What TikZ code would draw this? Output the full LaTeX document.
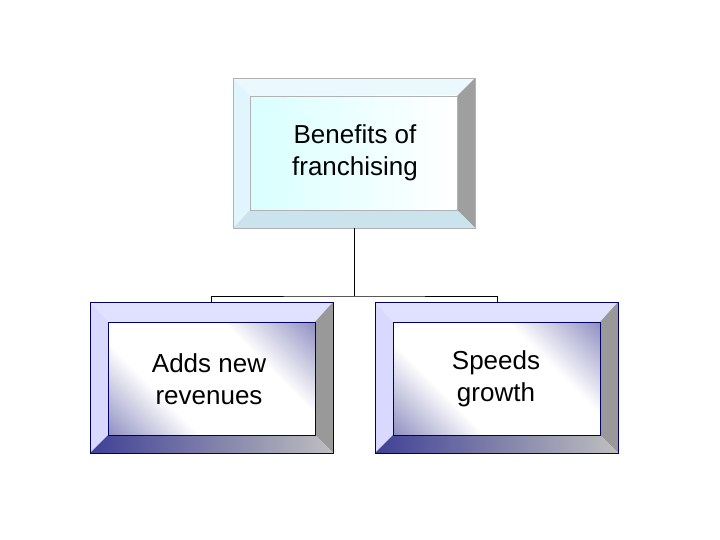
\documentclass[tikz,border=0pt]{standalone}
\usepackage{fontspec}
\setmainfont{Liberation Sans}
\pgfdeclareverticalshading{navyband}{100bp}{color(0bp)=(blue!45!black!75); color(35bp)=(white); color(65bp)=(white); color(100bp)=(blue!45!black!75)}
\begin{document}
\begin{tikzpicture}[x=1pt,y=-1pt,
  lbl/.style={font=\fontsize{26}{32}\selectfont, align=center, text=black},
  face/.style={draw=gray!60, line width=0.5pt},
  conn/.style={draw=black, line width=0.6pt}]
\useasboundingbox (0,0) rectangle (720,540);
% top box
\fill[cyan!8] (233,78) -- (475,78) -- (457,96) -- (250,96) -- cycle;
\fill[cyan!12] (233,78) -- (250,96) -- (250,210) -- (233,228) -- cycle;
\fill[gray!75] (475,78) -- (475,228) -- (457,210) -- (457,96) -- cycle;
\fill[gray!50!cyan!30] (233,228) -- (475,228) -- (457,210) -- (250,210) -- cycle;
\shade[shading angle=135, left color=cyan!15, right color=white] (250,96) rectangle (457,210);
\draw[face] (233,78) rectangle (475,228) (250,96) rectangle (457,210);
\node[lbl] (top) at (355,153) {Benefits of\\ franchising};
\coordinate (topb) at (354,228);
% left box
\fill[white!88!blue] (90,302) -- (333,302) -- (315,322) -- (108,322) -- cycle;
\fill[white!85!blue] (90,302) -- (108,322) -- (108,435) -- (90,453) -- cycle;
\fill[gray!80] (333,302) -- (333,453) -- (315,435) -- (315,322) -- cycle;
\shade[left color=blue!45!black!75, right color=gray!50] (90,453) -- (333,453) -- (315,435) -- (108,435) -- cycle;
\shade[shading=navyband, shading angle=-45] (108,322) rectangle (315,435);
\draw[face, draw=blue!40!black] (90,302) rectangle (333,453) (108,322) rectangle (315,435);
\node[lbl] (left) at (209,379) {Adds new\\ revenues};
\coordinate (lt) at (211,302);
% right box
\fill[white!88!blue] (375,302) -- (618,302) -- (600,322) -- (393,322) -- cycle;
\fill[white!85!blue] (375,302) -- (393,322) -- (393,435) -- (375,453) -- cycle;
\fill[gray!80] (618,302) -- (618,453) -- (600,435) -- (600,322) -- cycle;
\shade[left color=blue!45!black!75, right color=gray!50] (375,453) -- (618,453) -- (600,435) -- (393,435) -- cycle;
\shade[shading=navyband, shading angle=-45] (393,322) rectangle (600,435);
\draw[face, draw=blue!40!black] (375,302) rectangle (618,453) (393,322) rectangle (600,435);
\node[lbl] (right) at (496,379) {Speeds\\ growth};
\coordinate (rt) at (497,302);
% connectors
\coordinate (j) at (354,296);
\draw[conn] (topb) -- (j);
\draw[conn] (lt) |- (j) -| (rt);
\end{tikzpicture}
\end{document}
